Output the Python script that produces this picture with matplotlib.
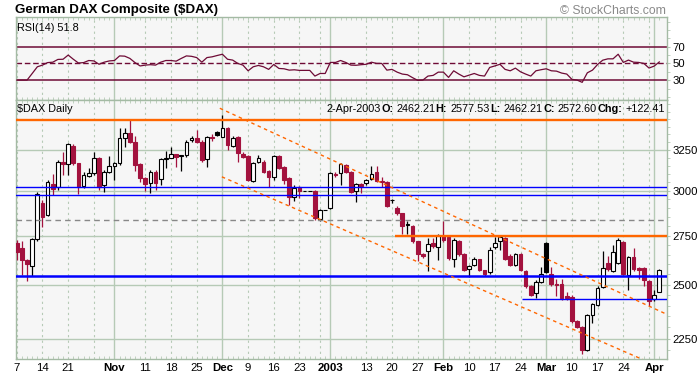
import numpy as np
import pandas as pd
import matplotlib
matplotlib.use("Agg")
import matplotlib.pyplot as plt
from matplotlib.ticker import FixedLocator, NullFormatter

plt.rcParams['font.family'] = ['Liberation Sans', 'DejaVu Sans']

# ---- data ----
holidays = ['2002-12-25', '2003-01-01']
dates = pd.bdate_range('2002-10-07', '2003-04-02')
dates = dates[~dates.isin(pd.to_datetime(holidays))]

opens = [2712, 2682, 2620, 2591, 2732, 2929, 2860, 3041, 3022, 3175,
         3159, 3273, 3166, 3031, 3090, 3104, 3196, 3035, 3114, 3151,
         3166, 3322, 3359, 3301, 3159, 3075, 3045, 3110, 3069, 3190,
         3200, 3221, 3211, 3217, 3312, 3322, 3301, 3190, 3329, 3362,
         3333, 3388, 3276, 3329, 3221, 3211, 3061, 3175, 3175, 3119,
         3081, 3211, 3143, 3075, 2967, 3022, 3000, 3000, 3000, 2841,
         2891, 2900, 3100, 3104, 3155, 3114, 3002, 3041, 3045, 3070,
         3114, 3057, 3051, 2948, 2900, 2871, 2808, 2804, 2720, 2654,
         2668, 2710, 2688, 2749, 2745, 2628, 2719, 2654, 2579, 2599,
         2625, 2571, 2561, 2689, 2719, 2737, 2642, 2599, 2651, 2566,
         2491, 2460, 2514, 2713, 2550, 2503, 2503, 2443, 2440, 2327,
         2303, 2202, 2356, 2401, 2486, 2609, 2566, 2609, 2717, 2547,
         2638, 2583, 2583, 2517, 2429, 2462.21]
highs = [2728, 2723, 2630, 2738, 2994, 2948, 3065, 3099, 3186, 3234,
         3292, 3286, 3170, 3113, 3137, 3237, 3203, 3125, 3212, 3175,
         3388, 3393, 3442, 3340, 3166, 3083, 3125, 3125, 3200, 3244,
         3265, 3224, 3217, 3312, 3340, 3376, 3312, 3336, 3351, 3370,
         3476, 3399, 3336, 3336, 3234, 3217, 3172, 3217, 3186, 3125,
         3217, 3217, 3149, 3083, 3035, 3029, 3000, 3000, 3006, 2897,
         2891, 3110, 3110, 3166, 3162, 3119, 3045, 3045, 3070, 3149,
         3149, 3079, 3057, 2953, 2914, 2876, 2830, 2808, 2723, 2660,
         2735, 2735, 2760, 2830, 2750, 2738, 2728, 2660, 2599, 2640,
         2630, 2574, 2687, 2740, 2754, 2745, 2651, 2656, 2656, 2574,
         2496, 2520, 2585, 2718, 2586, 2525, 2525, 2462, 2448, 2332,
         2306, 2359, 2410, 2491, 2667, 2645, 2702, 2735, 2723, 2645,
         2686, 2588, 2588, 2520, 2476, 2577.53]
lows = [2620, 2545, 2516, 2541, 2719, 2794, 2855, 2977, 3006, 3094,
        3094, 3155, 2981, 3018, 3083, 3094, 3006, 2996, 3107, 3065,
        3155, 3269, 3292, 3119, 3051, 3000, 2987, 3006, 3035, 3134,
        3197, 3145, 3119, 3206, 3299, 3292, 3175, 3145, 3306, 3336,
        3329, 3248, 3270, 3172, 3200, 3059, 3050, 3166, 3104, 3025,
        3065, 3128, 3040, 2919, 2942, 2958, 3000, 3000, 2836, 2830,
        2891, 2895, 3083, 3035, 3107, 2989, 2935, 2987, 3035, 3065,
        3051, 3025, 2905, 2930, 2860, 2760, 2760, 2710, 2617, 2633,
        2566, 2685, 2624, 2718, 2624, 2587, 2645, 2569, 2537, 2594,
        2569, 2541, 2552, 2681, 2676, 2620, 2594, 2594, 2566, 2482,
        2444, 2436, 2510, 2555, 2491, 2444, 2424, 2424, 2322, 2296,
        2186, 2195, 2322, 2396, 2481, 2569, 2561, 2604, 2545, 2476,
        2569, 2525, 2491, 2397, 2420, 2462.21]
closes = [2666, 2621, 2603, 2732, 2983, 2849, 3051, 3012, 3172, 3163,
          3284, 3166, 3025, 3094, 3104, 3196, 3025, 3114, 3151, 3166,
          3326, 3355, 3301, 3155, 3075, 3039, 3114, 3045, 3190, 3200,
          3221, 3206, 3217, 3301, 3322, 3301, 3186, 3329, 3322, 3344,
          3390, 3280, 3322, 3227, 3206, 3065, 3166, 3196, 3114, 3081,
          3211, 3136, 3065, 2967, 3019, 3000, 3000, 3000, 2846, 2891,
          2891, 3104, 3092, 3159, 3114, 2996, 3039, 3031, 3065, 3100,
          3057, 3051, 2915, 2945, 2871, 2804, 2810, 2720, 2651, 2643,
          2705, 2693, 2749, 2728, 2633, 2728, 2651, 2574, 2591, 2630,
          2574, 2552, 2676, 2713, 2740, 2628, 2599, 2651, 2571, 2491,
          2452, 2514, 2550, 2560, 2503, 2500, 2436, 2434, 2330, 2303,
          2203, 2355, 2405, 2485, 2582, 2579, 2663, 2728, 2550, 2640,
          2578, 2574, 2520, 2421, 2450.19, 2572.60]
rsi = [30.1, 30.1, 30.1, 38, 46, 48, 51, 51.5, 54.8, 55,
       60, 55, 50.5, 51, 53.5, 53, 49, 51.5, 53, 53.5,
       59, 58.7, 56, 51, 47, 48, 48.5, 48, 51.5, 53.5,
       53.5, 52.7, 56, 59, 58.5, 57, 51.5, 57, 57.9, 59.5,
       61, 55, 54, 50, 48, 41.2, 46, 47.6, 46, 42.9,
       48.8, 44, 43.6, 42, 42.4, 41.7, 41.7, 41.7, 34.9, 38,
       38, 51.2, 51.2, 53.5, 51.2, 48, 47.8, 48.5, 49, 51.5,
       50, 50, 42, 42.9, 39.6, 37.3, 36.5, 33, 29.8, 30.1,
       34.9, 35.7, 39.6, 39.6, 33.3, 41.2, 37.3, 34, 36, 38,
       35.7, 34.9, 45.2, 47, 49, 42.9, 41.2, 44.4, 40, 37.3,
       34.9, 41.2, 42.5, 43.6, 41.2, 40.8, 38.5, 37.3, 31, 30.1,
       27.4, 38.8, 42, 48.8, 53.9, 55.5, 55.5, 61, 51.2, 54,
       51.5, 51.2, 50, 44.5, 46.8, 51.8]

week_days = ['2002-10-07', '2002-10-14', '2002-10-21', '2002-10-28', '2002-11-11',
             '2002-11-18', '2002-11-25', '2002-12-09', '2002-12-16', '2002-12-23',
             '2002-12-30', '2003-01-13', '2003-01-20', '2003-01-27', '2003-02-10',
             '2003-02-17', '2003-02-24', '2003-03-10', '2003-03-17', '2003-03-24',
             '2003-03-31']
week_labels = ['7', '14', '21', '', '11', '18', '25', '9', '16', '23', '',
               '13', '20', '27', '10', '17', '24', '10', '17', '24', '']
month_days = ['2002-11-01', '2002-12-02', '2003-01-02', '2003-02-03', '2003-03-03', '2003-04-01']
month_labels = ['Nov', 'Dec', '2003', 'Feb', 'Mar', 'Apr']

price_ticks = [2250, 2500, 2750, 3000, 3250]
rsi_ticks = [30, 50, 70]

# overlay lines drawn on the chart
full_hlines = [(3442, '#ff6600', 1.7, '-'), (3022, '#0000ff', 1.0, '-'),
               (2975, '#0000ff', 1.0, '-'), (2833, '#888888', 1.0, '--'),
               (2543, '#0000ff', 1.8, '-')]
part_hlines = [(2750, 73.6, '#ff6600', 1.7), (2433, 98.3, '#0000ff', 1.0)]
channel = [((39.5, 3523), (126.5, 2359)), ((39.9, 3083), (126.5, 2117))]

W, H = 698, 374
RED = '#a3123e'
GRID = '#b6cab6'
MAROON = '#6e0a35'
BG = '#f6f6f6'

idx = np.arange(len(closes))
pos = {d: i for i, d in enumerate(dates.strftime('%Y-%m-%d'))}
week_idx = [pos[d] for d in week_days]
month_idx = [pos[d] for d in month_days]

fig = plt.figure(figsize=(W / 100, H / 100), dpi=100)
L, R = 15.5 / W, 667 / W
ax_r = fig.add_axes([L, 1 - 100 / H, R - L, 83 / H])
ax = fig.add_axes([L, 1 - 359 / H, R - L, 259 / H])

for a in (ax_r, ax):
    a.set_facecolor(BG)
    a.set_xlim(-0.25, 126.5)
    for s in a.spines.values():
        s.set_color('#a4baa4')
        s.set_linewidth(1.0)
    for i in week_idx:
        a.axvline(i, color=GRID, lw=0.8, dashes=(2, 3), zorder=0)
    for i in month_idx:
        a.axvline(i, color=GRID, lw=1.0, zorder=0)
    a.xaxis.set_minor_locator(FixedLocator(idx))
    a.tick_params(axis='x', which='minor', direction='in', length=2,
                  color=GRID, top=True, bottom=True)
    a.yaxis.tick_right()

# ---- RSI panel ----
ax_r.set_ylim(6.3, 105.5)
ax_r.plot(idx, rsi, color=MAROON, lw=0.9, zorder=3)
ax_r.axhline(70, color=MAROON, lw=1.1, zorder=2)
ax_r.axhline(30, color=MAROON, lw=1.1, zorder=2)
ax_r.axhline(50, color=MAROON, lw=1.0, dashes=(4, 2), zorder=2)
ax_r.set_yticks(rsi_ticks)
ax_r.set_yticklabels([str(t) for t in rsi_ticks])
ax_r.yaxis.set_minor_locator(FixedLocator(range(10, 101, 10)))
ax_r.yaxis.set_minor_formatter(NullFormatter())
ax_r.tick_params(axis='y', which='both', length=2, color=GRID, labelsize=8.2, pad=2)
ax_r.set_xticks([])
ax_r.text(1.5 / 651.5, 0.93, 'RSI(14) 51.8', transform=ax_r.transAxes,
          fontsize=7.8, va='top', ha='left')

# ---- price panel ----
ax.set_yscale('log')
ax.set_ylim(2163, 3580)
for t in price_ticks:
    ax.axhline(t, color=GRID, lw=1.0, zorder=0)

prev = [opens[0]] + closes[:-1]
for i in idx:
    o, h, l, c = opens[i], highs[i], lows[i], closes[i]
    col = 'black' if c >= prev[i] else RED
    face = 'white' if c >= o else col
    ax.vlines(i, l, h, color=col, lw=0.9, zorder=3)
    ax.bar(i, max(abs(c - o), 0.5), bottom=min(o, c), width=0.72,
           facecolor=face, edgecolor=col, lw=0.8, zorder=4)

for y, col, lw, ls in full_hlines:
    if ls == '--':
        ax.axhline(y, color=col, lw=lw, dashes=(4, 3), zorder=5)
    else:
        ax.axhline(y, color=col, lw=lw, zorder=5)
for y, start, col, lw in part_hlines:
    ax.hlines(y, start, 126.5, color=col, lw=lw, zorder=5)
for (x0, y0), (x1, y1) in channel:
    ax.plot([x0, x1], [y0, y1], color='#ff6600', lw=1.0, dashes=(2.5, 2.5), zorder=5)

ax.set_yticks(price_ticks)
ax.set_yticklabels([str(t) for t in price_ticks])
ax.yaxis.set_minor_locator(FixedLocator(range(2200, 3600, 50)))
ax.yaxis.set_minor_formatter(NullFormatter())
ax.tick_params(axis='y', which='both', length=2, color=GRID, labelsize=8.2, pad=2)

ticks = week_idx + month_idx
labels = week_labels + month_labels
ax.set_xticks(ticks)
ax.set_xticklabels(labels)
ax.tick_params(axis='x', which='major', length=0, labelsize=8.2, pad=3)
for lab in ax.get_xticklabels():
    if lab.get_text() in month_labels:
        lab.set_fontweight('bold')

ax.text(1.5 / 651.5, 0.985, '$DAX Daily', transform=ax.transAxes,
        fontsize=7.8, va='top', ha='left')

# ---- titles ----
fig.text(15 / W, 1 - 10.5 / H, 'German DAX Composite ($DAX)', fontsize=9.6,
         fontweight='bold', va='center', ha='left')
fig.text(666 / W, 1 - 11 / H, '\u00a9 StockCharts.com', fontsize=8.8,
         color='#8a8a8a', va='center', ha='right')

pieces = [('2-Apr-2003', 'normal'), ('O:', 'bold'), ('2462.21', 'normal'),
          ('H:', 'bold'), ('2577.53', 'normal'), ('L:', 'bold'), ('2462.21', 'normal'),
          ('C:', 'bold'), ('2572.60', 'normal'), ('Chg:', 'bold'), ('+122.41', 'normal')]
fig.canvas.draw()
renderer = fig.canvas.get_renderer()
x = 665.0
for k in range(len(pieces) - 1, -1, -1):
    txt, wt = pieces[k]
    t = fig.text(x / W, 1 - 109.5 / H, txt, fontsize=7.8, fontweight=wt,
                 va='center', ha='right')
    x -= t.get_window_extent(renderer).width
    if wt == 'normal':
        x -= 3.5

fig.savefig('out.png', dpi=100)
